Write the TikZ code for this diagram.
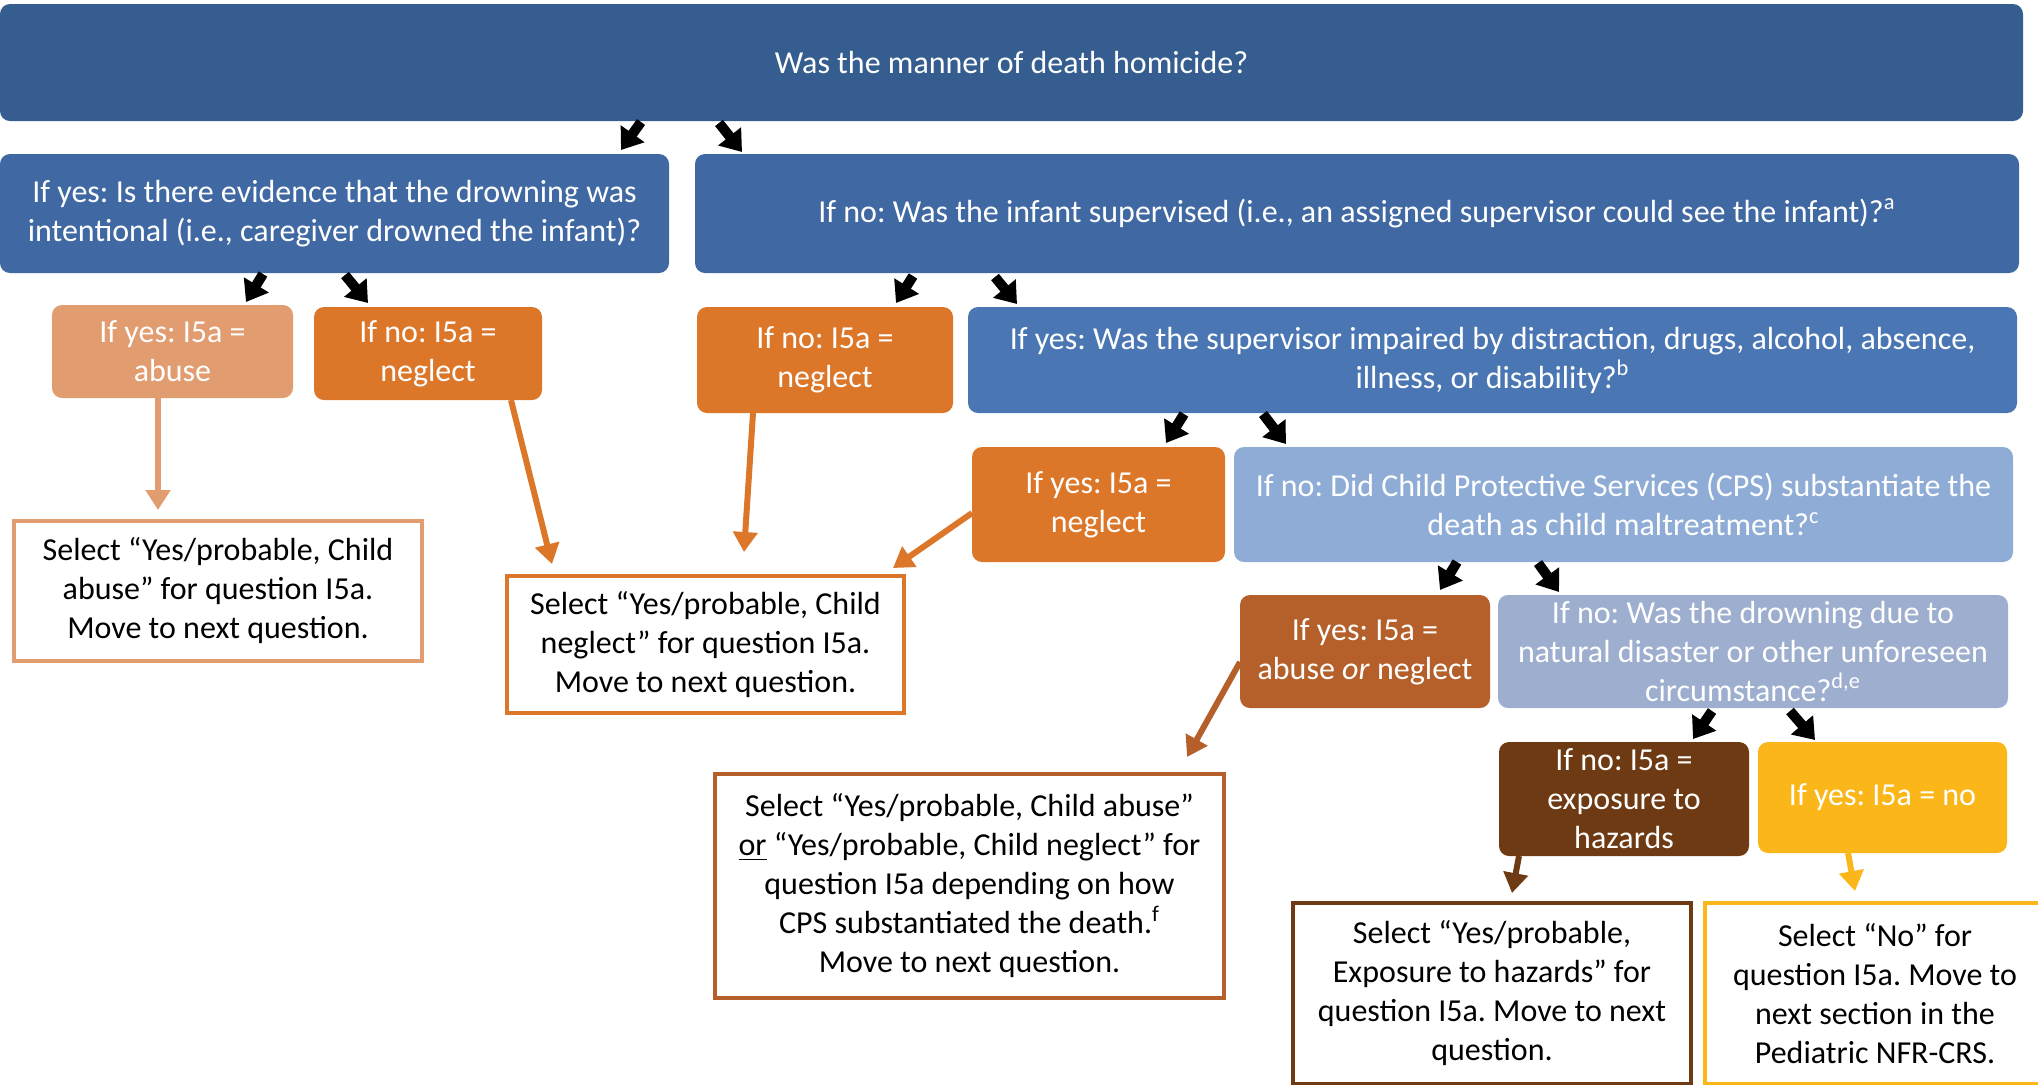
\documentclass[tikz,border=0pt]{standalone}
\usepackage{fontspec}
\setmainfont{Carlito}
\usetikzlibrary{arrows.meta,calc}
\frenchspacing
\definecolor{cTop}{HTML}{355D8F}
\definecolor{cL1}{HTML}{4069A4}
\definecolor{cR2}{HTML}{4A77B4}
\definecolor{cC1}{HTML}{8EACD5}
\definecolor{cD1}{HTML}{9DAECF}
\definecolor{cAbuse}{HTML}{E19C6F}
\definecolor{cNeg}{HTML}{DC772A}
\definecolor{cAorN}{HTML}{B5602A}
\definecolor{cHaz}{HTML}{6E3A13}
\definecolor{cNo}{HTML}{FBB71A}
\tikzset{
  qbox/.style={rounded corners=5pt, fill=#1, text=white, align=center, inner sep=0pt, outer sep=0pt,
    font=\fontsize{16pt}{19.5pt}\selectfont},
  abox/.style={draw=#1, line width=2pt, fill=white, text=black, align=center, inner sep=0pt, outer sep=0pt,
    font=\fontsize{16pt}{19.5pt}\selectfont},
  blk/.style={line width=5pt, black, -{Triangle[length=10pt,width=14pt]}},
  carr/.style={line width=3pt, draw=#1, -{Triangle[length=10pt,width=12pt]}}
}
\begin{document}
\begin{tikzpicture}[x=0.5pt,y=-0.5pt]
\useasboundingbox (0,0) rectangle (2038,1084);
% question boxes
\node[qbox=cTop, minimum width=1011.5pt, minimum height=58.5pt] (T) at (1011.5,62.5) {Was the manner of death homicide?};
\node[qbox=cL1, minimum width=334.5pt, minimum height=59.5pt] (L1) at (334.5,213.5) {If yes: Is there evidence that the drowning was\\intentional (i.e., caregiver drowned the infant)?};
\node[qbox=cL1, minimum width=662pt, minimum height=59.5pt] (R1) at (1357,213.5) {If no: Was the infant supervised (i.e., an assigned supervisor could see the infant)?\textsuperscript{a}};
\node[qbox=cAbuse, minimum width=120.5pt, minimum height=46.5pt] (A1) at (172.5,351.5) {If yes: I5a =\\abuse};
\node[qbox=cNeg, minimum width=114pt, minimum height=46.5pt] (N1) at (428,353.5) {If no: I5a =\\neglect};
\node[qbox=cNeg, minimum width=128pt, minimum height=53pt] (N2) at (825,360) {If no: I5a =\\neglect};
\node[qbox=cR2, minimum width=524.5pt, minimum height=53pt] (R2) at (1492.5,360) {If yes: Was the supervisor impaired by distraction, drugs, alcohol, absence,\\illness, or disability?\textsuperscript{b}};
\node[qbox=cNeg, minimum width=126.5pt, minimum height=57.5pt] (Y1) at (1098.5,504.5) {If yes: I5a =\\neglect};
\node[qbox=cC1, minimum width=389.5pt, minimum height=57.5pt] (C1) at (1623.5,504.5) {If no: Did Child Protective Services (CPS) substantiate the\\death as child maltreatment?\textsuperscript{c}};
\node[qbox=cAorN, minimum width=125pt, minimum height=56.5pt] (Y2) at (1365,651.5) {If yes: I5a =\\abuse \textit{or} neglect};
\node[qbox=cD1, minimum width=255pt, minimum height=56.5pt] (D1) at (1753,651.5) {If no: Was the drowning due to\\natural disaster or other unforeseen\\circumstance?\textsuperscript{d,e}};
\node[qbox=cHaz, minimum width=125pt, minimum height=57pt] (H1) at (1624,799) {If no: I5a =\\exposure to\\hazards};
\node[qbox=cNo, minimum width=124.5pt, minimum height=55.5pt] (Yn) at (1882.5,797.5) {If yes: I5a = no};
% answer boxes
\node[abox=cAbuse, minimum width=204pt, minimum height=70pt] (E1) at (218,591) {Select “Yes/probable, Child\\abuse” for question I5a.\\Move to next question.};
\node[abox=cNeg, minimum width=198.5pt, minimum height=68.5pt] (E2) at (705.5,644.5) {Select “Yes/probable, Child\\neglect” for question I5a.\\Move to next question.};
\node[abox=cAorN, minimum width=254.5pt, minimum height=112pt] (E3) at (969.5,886) {Select “Yes/probable, Child abuse”\\\underline{or} “Yes/probable, Child neglect” for\\question I5a depending on how\\CPS substantiated the death.\textsuperscript{f}\\Move to next question.};
\node[abox=cHaz, minimum width=199pt, minimum height=90.5pt] (E4) at (1492,993.5) {Select “Yes/probable,\\Exposure to hazards” for\\question I5a. Move to next\\question.};
\node[abox=cNo, minimum width=170pt, minimum height=90.5pt] (E5) at (1875,993.5) {Select “No” for\\question I5a. Move to\\next section in the\\Pediatric NFR-CRS.};
% black arrows
\draw[blk] ($(T.south west)+(641,1)$) -- ($(L1.north west)+(621,-4)$);
\draw[blk] ($(T.south west)+(719,2)$) -- ($(R1.north west)+(47,-2)$);
\draw[blk] ($(L1.south west)+(263,1)$) -- ($(A1.north west)+(194,-3)$);
\draw[blk] ($(L1.south west)+(345,2)$) -- ($(N1.north west)+(54,-4)$);
\draw[blk] ($(R1.south west)+(218,3)$) -- ($(N2.north west)+(199,-4)$);
\draw[blk] ($(R1.south west)+(300,4)$) -- ($(R2.north west)+(49,-3)$);
\draw[blk] ($(R2.south west)+(216,1)$) -- ($(Y1.north west)+(194,-4)$);
\draw[blk] ($(R2.south west)+(295,1)$) -- ($(C1.north west)+(52,-3)$);
\draw[blk] ($(C1.south west)+(223,0)$) -- ($(Y2.north west)+(200,-5)$);
\draw[blk] ($(C1.south west)+(304,1)$) -- ($(D1.north west)+(61,-3)$);
\draw[blk] ($(D1.south west)+(214,3)$) -- ($(H1.north west)+(194,-3)$);
\draw[blk] ($(D1.south west)+(292,3)$) -- ($(Yn.north west)+(57,-2)$);
% coloured arrows
\draw[carr=cAbuse] ($(A1.south west)+(106,0)$) -- ($(E1.north west)+(144,-11)$);
\draw[carr=cNeg] ($(N1.south west)+(197,0)$) -- ($(E2.north west)+(45,-12)$);
\draw[carr=cNeg] ($(N2.south west)+(56,0)$) -- ($(E2.north west)+(237,-24)$);
\draw[carr=cNeg] ($(Y1.south west)+(0,-49)$) -- ($(E2.north west)+(386,-8)$);
\draw[carr=cAorN] ($(Y2.south west)+(0,-46)$) -- ($(E3.north west)+(472,-17)$);
\draw[carr=cHaz] ($(H1.south west)+(20,0)$) -- ($(E4.north west)+(219,-10)$);
\draw[carr=cNo] ($(Yn.south west)+(90,0)$) -- ($(E5.north west)+(150,-12)$);
\end{tikzpicture}
\end{document}
